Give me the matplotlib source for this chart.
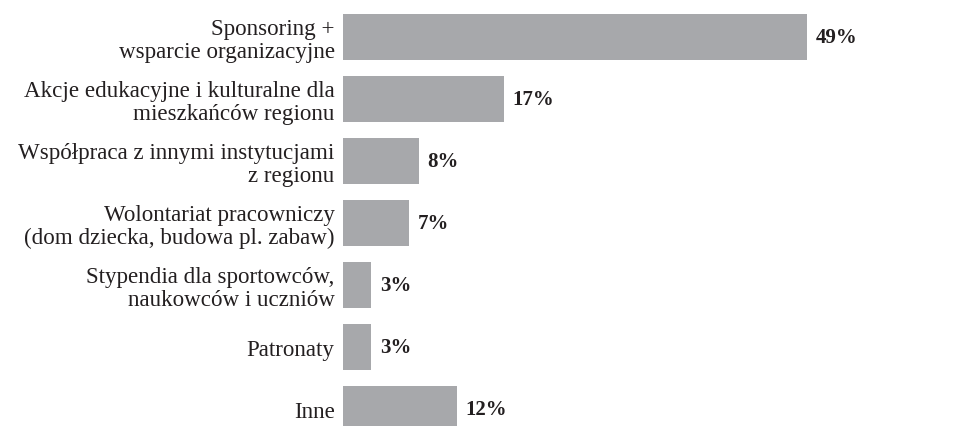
import matplotlib
matplotlib.use("Agg")
import matplotlib.pyplot as plt

categories = [
    "Sponsoring +\nwsparcie organizacyjne",
    "Akcje edukacyjne i kulturalne dla\nmieszkańców regionu",
    "Współpraca z innymi instytucjami\nz regionu",
    "Wolontariat pracowniczy\n(dom dziecka, budowa pl. zabaw)",
    "Stypendia dla sportowców,\nnaukowców i uczniów",
    "Patronaty",
    "Inne",
]
values = [49, 17, 8, 7, 3, 3, 12]
value_labels = ["49%", "17%", "8%", "7%", "3%", "3%", "12%"]

BAR_COLOR = "#a7a8ab"
TEXT_COLOR = "#231f20"
FONT = ["Liberation Serif", "DejaVu Serif"]

W, H = 954, 427
fig = plt.figure(figsize=(W / 100, H / 100), dpi=100)
ax_left = 343 / W
ax = fig.add_axes([ax_left, 0, 1 - ax_left, 1])

pitch = 62.0
first_center = 38.0
positions = list(range(len(categories)))
ax.barh(positions, values, height=46 / pitch, color=BAR_COLOR, left=0)
ax.set_ylim((H - first_center) / pitch, -first_center / pitch)
ax.set_xlim(0, 49 * (W - 343) / 464)

ax.set_yticks(positions)
ax.set_yticklabels(categories, fontfamily=FONT, fontsize=16.6, color=TEXT_COLOR,
                   linespacing=1.1)
ax.tick_params(axis="y", length=0, pad=6)
ax.set_xticks([])
for s in ax.spines.values():
    s.set_visible(False)

for y, v, lab in zip(positions, values, value_labels):
    ax.annotate(lab, (v, y), xytext=(6, 0), textcoords="offset points",
                ha="left", va="center", fontfamily=FONT, fontsize=15,
                fontweight="bold", color=TEXT_COLOR)

fig.savefig("out.png", dpi=100)
